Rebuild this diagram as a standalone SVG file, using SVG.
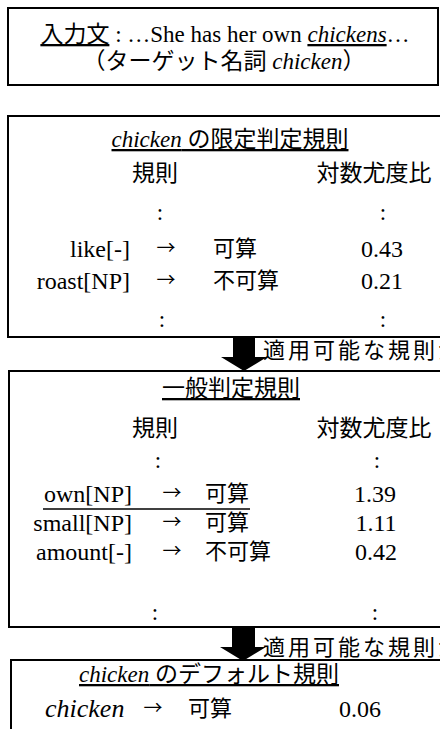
<svg xmlns="http://www.w3.org/2000/svg" width="440" height="729" viewBox="0 0 440 729">
<style>
.bg{fill:#fff}
.box{fill:none;stroke:#000;stroke-width:2}
.t{font-family:"Liberation Serif","Noto Sans CJK JP",serif;font-size:23px;fill:#000}
.r{font-family:"Liberation Serif",serif;font-size:24px;fill:#000}
.j{font-family:"Noto Sans CJK JP","Liberation Serif",sans-serif;font-size:22px;fill:#000}
.h{font-family:"Noto Sans CJK JP",sans-serif;font-size:23px;fill:#000;text-anchor:middle}
.a{font-family:"Noto Sans CJK JP",sans-serif;font-size:19px;fill:#000;text-anchor:middle}
.i{font-style:italic}
.u{text-decoration:underline}
.m{text-anchor:middle}
.e{text-anchor:end}
.ul{stroke:#000;stroke-width:1.5}
.arr{fill:#000}
.lbl{font-family:"Noto Sans CJK JP",sans-serif;font-size:22px;letter-spacing:3px;fill:#000}
</style>
<rect class="bg" x="0" y="0" width="440" height="729"/>

<g id="input">
<rect class="box" x="8" y="8" width="430" height="77"/>
<text class="t m" x="225" y="42"><tspan class="u">入力文</tspan> : …She has her own <tspan class="i u">chickens</tspan>…</text>
<text class="t m" x="224" y="69">（ターゲット名詞 <tspan class="i">chicken</tspan>）</text>
</g>

<g id="specific">
<rect class="box" x="8" y="116" width="445" height="221"/>
<text class="t m u" x="230" y="147"><tspan class="i">chicken</tspan> の限定判定規則</text>
<text class="h" x="155" y="181">規則</text>
<text class="h" x="374" y="181">対数尤度比</text>
<text class="t m" x="160" y="220">:</text>
<text class="t m" x="383" y="220">:</text>
<text class="r e" x="130" y="257">like[-]</text>
<text class="a" x="166" y="255">→</text>
<text class="j" x="213" y="256">可算</text>
<text class="r m" x="382" y="257">0.43</text>
<text class="r e" x="130" y="289">roast[NP]</text>
<text class="a" x="166" y="287">→</text>
<text class="j" x="213" y="288">不可算</text>
<text class="r m" x="382" y="289">0.21</text>
<text class="t m" x="162" y="327">:</text>
<text class="t m" x="383" y="327">:</text>
</g>

<g id="general">
<rect class="box" x="9" y="371" width="445" height="256"/>
<text class="t m u" x="231" y="396">一般判定規則</text>
<text class="h" x="155" y="436">規則</text>
<text class="h" x="374" y="436">対数尤度比</text>
<text class="t m" x="158" y="468">:</text>
<text class="t m" x="377" y="468">:</text>
<text class="r e" x="132" y="502">own[NP]</text>
<text class="a" x="172" y="500">→</text>
<text class="j" x="205" y="501">可算</text>
<text class="r m" x="375" y="502">1.39</text>
<line class="ul" x1="43" y1="509" x2="250" y2="509"/>
<text class="r e" x="132" y="531">small[NP]</text>
<text class="a" x="172" y="529">→</text>
<text class="j" x="205" y="530">可算</text>
<text class="r m" x="376" y="531">1.11</text>
<text class="r e" x="132" y="560">amount[-]</text>
<text class="a" x="172" y="558">→</text>
<text class="j" x="205" y="559">不可算</text>
<text class="r m" x="376" y="560">0.42</text>
<text class="t m" x="155" y="620">:</text>
<text class="t m" x="375" y="620">:</text>
</g>

<g id="default">
<rect class="box" x="11" y="660" width="445" height="90"/>
<text class="t m u" x="209" y="682"><tspan class="i">chicken</tspan> のデフォルト規則</text>
<text class="r i" x="45" y="717" style="font-size:26px">chicken</text>
<text class="a" x="153" y="715">→</text>
<text class="j" x="188" y="716">可算</text>
<text class="r m" x="360" y="717">0.06</text>
</g>

<g id="connectors">
<path class="arr" d="M233,338 H255 V357 H267 L244,371 L221,357 H233 Z"/>
<text class="lbl" x="263" y="358">適用可能な規則が</text>
<path class="arr" d="M232,628 H255 V647 H266 L243,661 L220,647 H232 Z"/>
<text class="lbl" x="263" y="655">適用可能な規則が</text>
</g>
</svg>
